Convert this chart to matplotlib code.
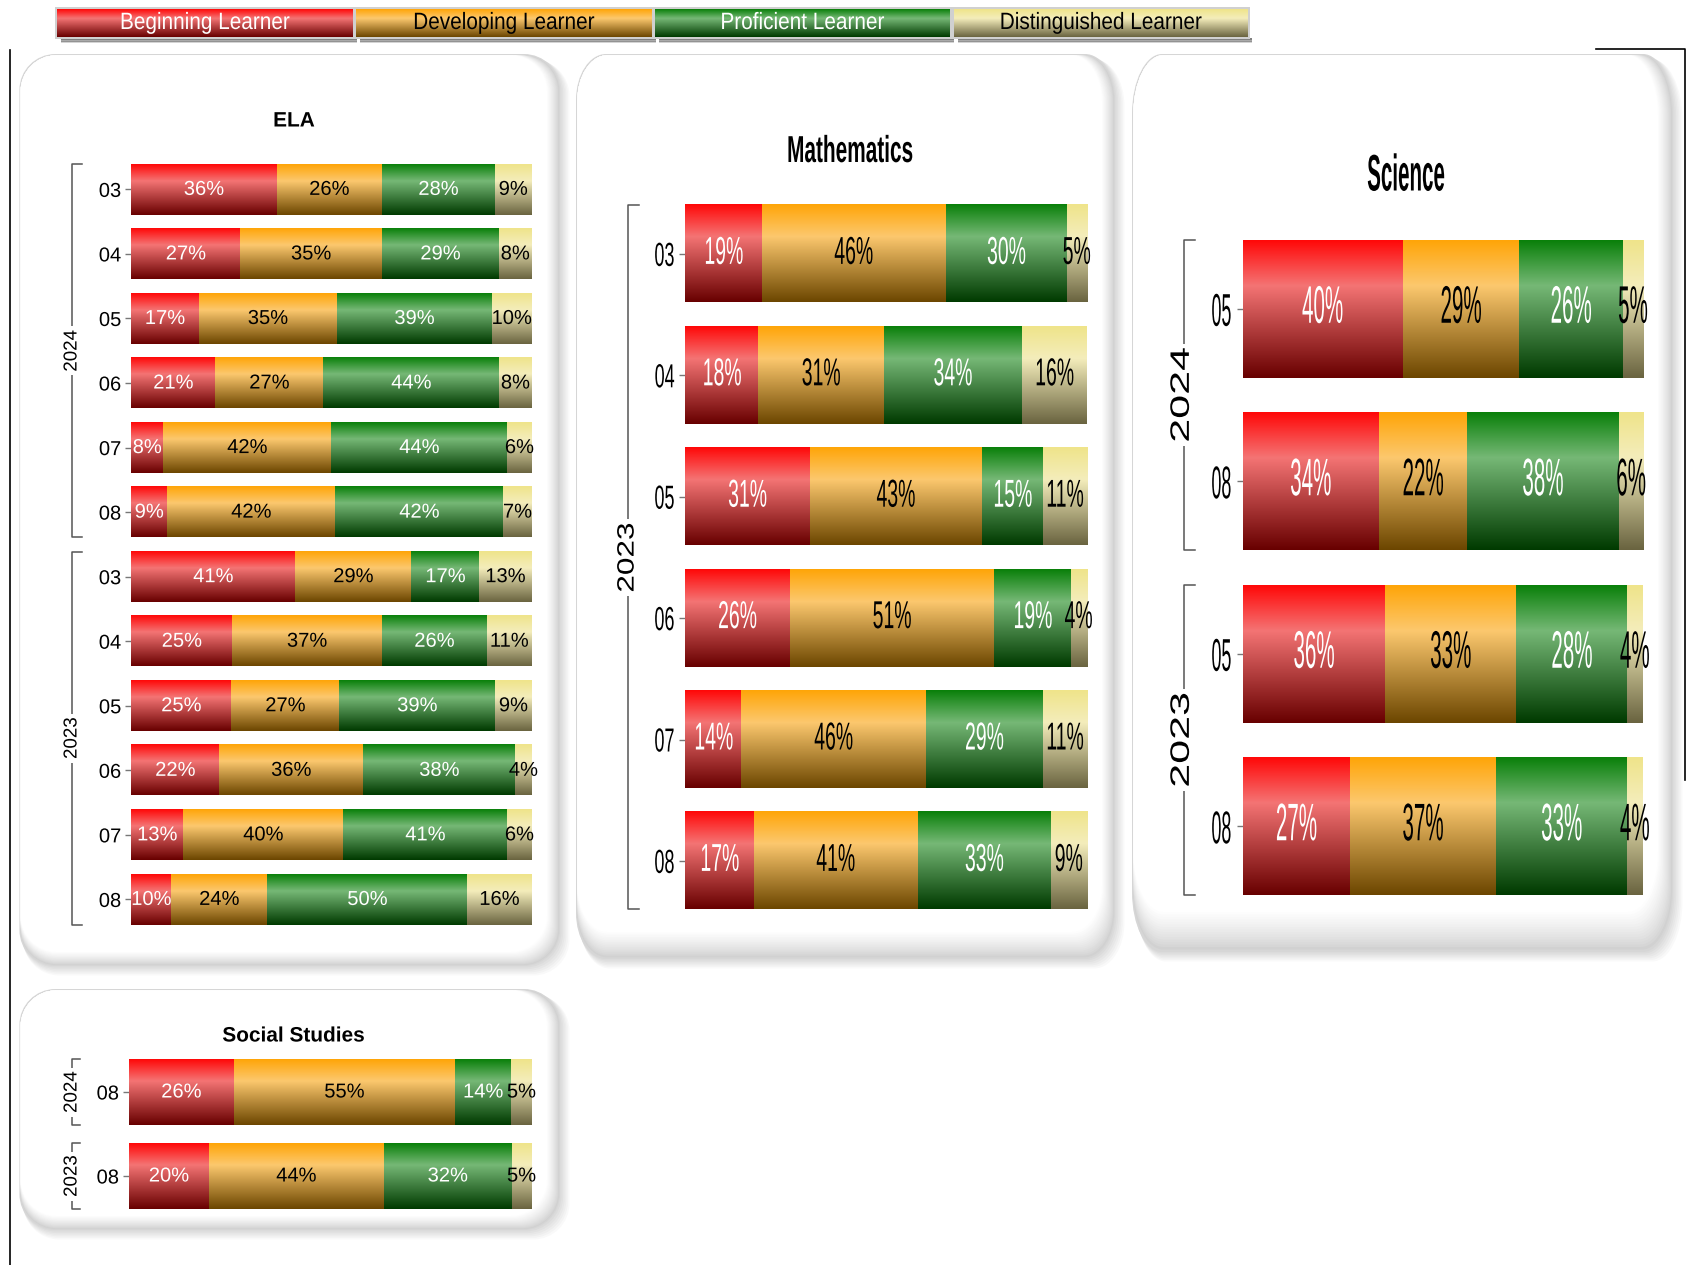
import numpy as np
import matplotlib
matplotlib.use("Agg")
import matplotlib.pyplot as plt
import matplotlib.patheffects as pe
from matplotlib.patches import PathPatch, Rectangle
from matplotlib.path import Path
from matplotlib.colors import to_rgb
from matplotlib.transforms import Affine2D, blended_transform_factory

# ---------------- data ----------------
levels = ["Beginning Learner", "Developing Learner", "Proficient Learner", "Distinguished Learner"]

ela_years = ["2024"] * 6 + ["2023"] * 6
ela_grades = ["03", "04", "05", "06", "07", "08"] * 2
ela_begin = [36, 27, 17, 21, 8, 9, 41, 25, 25, 22, 13, 10]
ela_develop = [26, 35, 35, 27, 42, 42, 29, 37, 27, 36, 40, 24]
ela_prof = [28, 29, 39, 44, 44, 42, 17, 26, 39, 38, 41, 50]
ela_dist = [9, 8, 10, 8, 6, 7, 13, 11, 9, 4, 6, 16]

math_years = ["2023"] * 6
math_grades = ["03", "04", "05", "06", "07", "08"]
math_begin = [19, 18, 31, 26, 14, 17]
math_develop = [46, 31, 43, 51, 46, 41]
math_prof = [30, 34, 15, 19, 29, 33]
math_dist = [5, 16, 11, 4, 11, 9]

sci_years = ["2024", "2024", "2023", "2023"]
sci_grades = ["05", "08", "05", "08"]
sci_begin = [40, 34, 36, 27]
sci_develop = [29, 22, 33, 37]
sci_prof = [26, 38, 28, 33]
sci_dist = [5, 6, 4, 4]

ss_years = ["2024", "2023"]
ss_grades = ["08", "08"]
ss_begin = [26, 20]
ss_develop = [55, 44]
ss_prof = [14, 32]
ss_dist = [5, 5]

# ---------------- style ----------------
W, H, DPI = 1687, 1265, 100
FONT = "Liberation Sans"
GRAD_STOPS = [
    [(0.0, "#ff0808"), (0.33, "#f47474"), (1.0, "#680000")],
    [(0.0, "#ffa508"), (0.33, "#fcc86e"), (1.0, "#6c4600")],
    [(0.0, "#0a800a"), (0.33, "#76b876"), (1.0, "#003a00")],
    [(0.0, "#efe48a"), (0.33, "#f4edbb"), (1.0, "#6a6440")],
]
BASE = ["#c83030", "#d09030", "#2f8a2f", "#c8c090"]
TEXTCOL = ["white", "black", "white", "black"]


def grad_img(stops, n=128):
    pos = [s[0] for s in stops]
    cols = np.array([to_rgb(s[1]) for s in stops])
    t = np.linspace(0, 1, n)
    img = np.stack([np.interp(t, pos, cols[:, k]) for k in range(3)], axis=-1)
    return img[:, None, :]


IMGS = [grad_img(s) for s in GRAD_STOPS]


class Squeeze(pe.AbstractPathEffect):
    """Horizontally condense the glyph outlines (text stays a Text artist)."""

    def __init__(self, sx, anchor="center"):
        super().__init__()
        self.sx = sx
        self.anchor = anchor

    def draw_path(self, renderer, gc, tpath, affine, rgbFace=None):
        ext = tpath.get_extents(affine)
        if self.anchor == "right":
            x0 = ext.x1
        elif self.anchor == "left":
            x0 = ext.x0
        else:
            x0 = 0.5 * (ext.x0 + ext.x1)
        aff = affine + Affine2D().translate(-x0, 0).scale(self.sx, 1.0).translate(x0, 0)
        renderer.draw_path(gc, tpath, aff, rgbFace)


def rr_path(x0, y0, x1, y1, rx, ry):
    k = 0.5523
    v = [(x0 + rx, y0), (x1 - rx, y0),
         (x1 - rx + k * rx, y0), (x1, y0 + ry - k * ry), (x1, y0 + ry),
         (x1, y1 - ry),
         (x1, y1 - ry + k * ry), (x1 - rx + k * rx, y1), (x1 - rx, y1),
         (x0 + rx, y1),
         (x0 + rx - k * rx, y1), (x0, y1 - ry + k * ry), (x0, y1 - ry),
         (x0, y0 + ry),
         (x0, y0 + ry - k * ry), (x0 + rx - k * rx, y0), (x0 + rx, y0),
         (x0 + rx, y0)]
    c = [Path.MOVETO, Path.LINETO,
         Path.CURVE4, Path.CURVE4, Path.CURVE4,
         Path.LINETO,
         Path.CURVE4, Path.CURVE4, Path.CURVE4,
         Path.LINETO,
         Path.CURVE4, Path.CURVE4, Path.CURVE4,
         Path.LINETO,
         Path.CURVE4, Path.CURVE4, Path.CURVE4,
         Path.CLOSEPOLY]
    return Path(v, c)


def mix(c1, c2, t):
    a, b = np.array(to_rgb(c1)), np.array(to_rgb(c2))
    return tuple(a + (b - a) * t)


fig = plt.figure(figsize=(W / DPI, H / DPI), dpi=DPI)
fig.patch.set_facecolor("white")
bg = fig.add_axes([0, 0, 1, 1])
bg.set_xlim(0, W)
bg.set_ylim(H, 0)
bg.axis("off")
bg.set_zorder(0)


def panel_bg(x0, y0, x1, y1, rx, ry, bandR, bandB):
    for k in range(6):
        off = 1.5 + 1.6 * k
        bg.add_patch(PathPatch(rr_path(x0 + off * 0.4, y0 + off * 0.6, x1 + off, y1 + off, rx, ry),
                               fc="black", ec="none", alpha=0.022, zorder=0.1))
    bg.add_patch(PathPatch(rr_path(x0, y0, x1, y1, rx, ry), fc="#d6d6d6", ec="none", zorder=0.2))
    N = 16
    for j in range(N):
        t = (j + 1) / N
        col = mix("#c9c9c9", "#ffffff", t ** 0.7)
        bg.add_patch(PathPatch(rr_path(x0 + 1.2, y0 + 1.2, x1 - t * bandR, y1 - t * bandB, rx, ry),
                               fc=col, ec="none", zorder=0.2 + 0.01 * (j + 1)))


panel_bg(19.4, 54, 560, 966, 36, 36, 13, 14)
panel_bg(576, 54, 1115, 959, 30, 46, 13, 27)
panel_bg(1132, 54, 1673, 952, 30, 60, 15, 40)
panel_bg(19.4, 989, 560, 1230, 36, 36, 13, 14)

# frame lines
bg.plot([10, 10], [50, H], color="black", lw=1.2, zorder=1)
bg.plot([1596, 1685.5, 1685.5], [48.5, 48.5, 780], color="black", lw=1.2, zorder=1)

# ---------------- legend ----------------
leg_x = [(57, 353), (356, 652), (655, 950), (954, 1248)]
ly0, ly1 = 9, 37
for k, (x0, x1) in enumerate(leg_x):
    for j, a in enumerate([0.75, 0.5, 0.25]):
        bg.add_patch(Rectangle((x0 + 4, ly1 + 1 + j * 1.7), x1 - x0, 1.8, fc="#555555", ec="none",
                               alpha=a, zorder=1))
    bg.add_patch(Rectangle((x0 - 2, ly0 - 2), x1 - x0 + 4, ly1 - ly0 + 4, fc="#d0d0d0", ec="none", zorder=1.1))
    bg.imshow(IMGS[k], extent=(x0, x1, ly1, ly0), aspect="auto", origin="upper",
              interpolation="bilinear", zorder=1.2)
    fig.text((x0 + x1) / 2 / W, 1 - (ly0 + ly1) / 2 / H, levels[k], ha="center", va="center",
             fontsize=17, color=TEXTCOL[k], family=FONT, path_effects=[Squeeze(0.88)])
bg.set_xlim(0, W)
bg.set_ylim(H, 0)


# ---------------- charts ----------------
def chart(px, years, grades, series, hfrac, lab_fs, lab_sx, tick_fs, tick_sx,
          year_fs, year_sx, br_px, br_tick, title, title_xy, title_fs, title_sx):
    x0, x1, yt, yb = px
    ax = fig.add_axes([x0 / W, 1 - yb / H, (x1 - x0) / W, (yb - yt) / H])
    ax.set_zorder(2)
    ax.patch.set_alpha(0)
    n = len(grades)
    ypos = np.arange(n)[::-1].astype(float)
    tot = np.sum(np.array(series, float), axis=0)
    left = np.zeros(n)
    for k, vals in enumerate(series):
        vals = np.array(vals, float)
        w = vals / tot * 100
        bars = ax.barh(ypos, w, left=left, height=hfrac, color=BASE[k], linewidth=0, zorder=1)
        for p in bars.patches:
            bx, by, bw, bh = p.get_x(), p.get_y(), p.get_width(), p.get_height()
            ax.imshow(IMGS[k], extent=(bx, bx + bw, by, by + bh), aspect="auto", origin="upper",
                      interpolation="bilinear", zorder=2)
        labs = ax.bar_label(bars, labels=[f"{int(v)}%" for v in vals], label_type="center",
                            color=TEXTCOL[k], fontsize=lab_fs, family=FONT)
        for t in labs:
            t.set_zorder(4)
            t.set_clip_on(False)
            t.set_path_effects([Squeeze(lab_sx)])
        left += w
    ax.set_xlim(0, 100)
    ax.set_ylim(-0.5, n - 0.5)
    ax.set_xticks([])
    ax.set_yticks(ypos)
    ax.set_yticklabels(grades, fontsize=tick_fs, family=FONT)
    ax.tick_params(axis="y", length=4.3, width=1.0, color="#777777", pad=3)
    for s in ax.spines.values():
        s.set_visible(False)
    for t in ax.get_yticklabels():
        t.set_path_effects([Squeeze(tick_sx, "right")])

    tr = blended_transform_factory(ax.transAxes, ax.transData)
    bxf = (br_px - x0) / (x1 - x0)
    tl = br_tick / (x1 - x0)
    seen = []
    for yr in years:
        if yr not in seen:
            seen.append(yr)
    for yr in seen:
        idx = [i for i, y in enumerate(years) if y == yr]
        top = ypos[idx[0]] + hfrac / 2
        bot = ypos[idx[-1]] - hfrac / 2
        ax.plot([bxf + tl, bxf, bxf, bxf + tl], [top, top, bot, bot], transform=tr,
                color="#555555", lw=1.1, clip_on=False, zorder=3)
        ax.text(bxf, (top + bot) / 2, yr, transform=tr, rotation=90, ha="center", va="center",
                fontsize=year_fs, family=FONT, zorder=4,
                bbox=dict(fc="white", ec="none", pad=2.5),
                path_effects=[Squeeze(year_sx)])
    fig.text(title_xy[0] / W, 1 - title_xy[1] / H, title, ha="center", va="center",
             fontsize=title_fs, fontweight="bold", family=FONT, path_effects=[Squeeze(title_sx)])
    return ax


chart((131.3, 531.5, 157.1, 931.7), ela_years, ela_grades,
      [ela_begin, ela_develop, ela_prof, ela_dist], 0.78,
      14.5, 1.0, 14.5, 1.0, 13.5, 1.0, 72, 10, "ELA", (294, 121), 15, 1.0)

chart((685.3, 1086.7, 193.2, 921.6), math_years, math_grades,
      [math_begin, math_develop, math_prof, math_dist], 0.8,
      28, 0.5, 24, 0.54, 22.7, 0.75, 628.3, 11, "Mathematics", (850, 152), 27, 0.555)

chart((1242.7, 1642.9, 222.5, 912.5), sci_years, sci_grades,
      [sci_begin, sci_develop, sci_prof, sci_dist], 0.8,
      38, 0.39, 33, 0.39, 31, 0.62, 1183.5, 11, "Science", (1406, 177), 37, 0.40)

chart((129.1, 531.5, 1050, 1218), ss_years, ss_grades,
      [ss_begin, ss_develop, ss_prof, ss_dist], 0.78,
      14.5, 1.0, 14.5, 1.0, 13.5, 1.0, 72, 8, "Social Studies", (294, 1036), 15, 1.0)

fig.savefig("out.png", dpi=DPI, facecolor="white")
